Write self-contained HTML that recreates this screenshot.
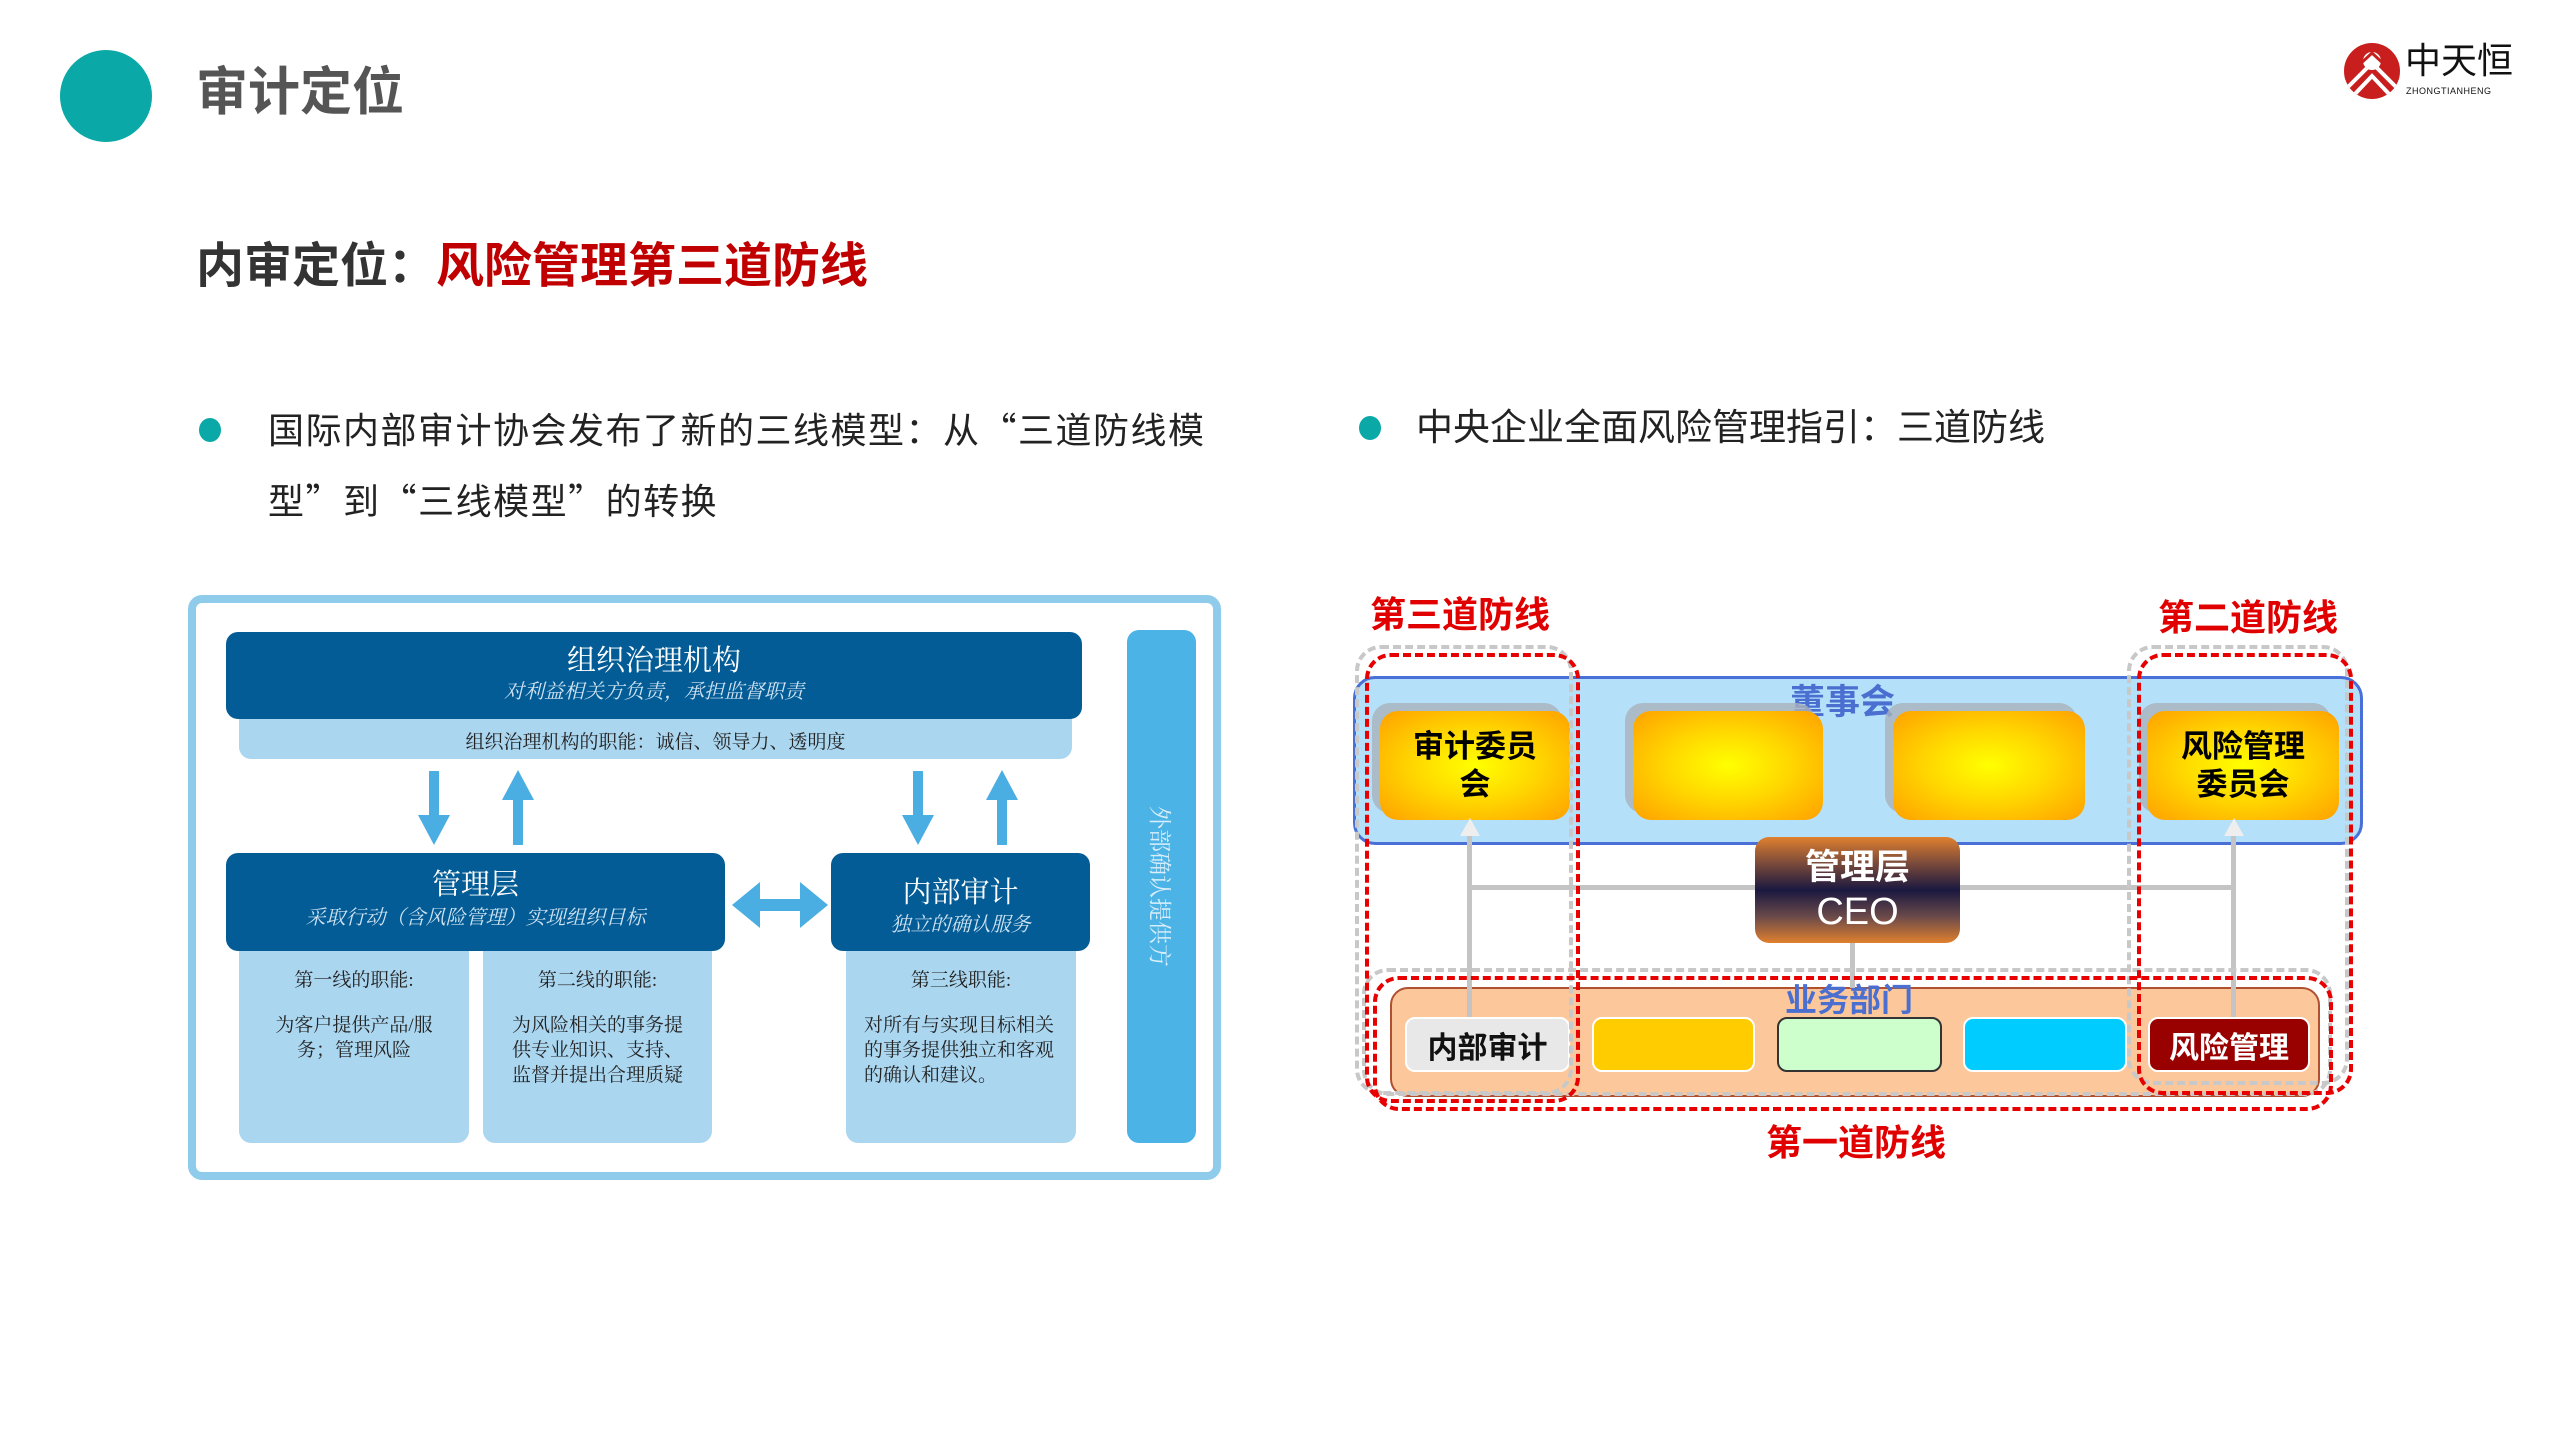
<!DOCTYPE html>
<html><head><meta charset="utf-8"><style>
*{margin:0;padding:0;box-sizing:border-box}
body{width:2560px;height:1440px;background:#fff;position:relative;overflow:hidden;font-family:"Liberation Sans","Noto Sans CJK SC",sans-serif}
.a{position:absolute}
.c{display:flex;align-items:center;justify-content:center;text-align:center}
.serif{font-family:"Liberation Serif","Noto Serif CJK SC",serif}
.dk{background:#035c96;border-radius:12px;color:#fff}
.lt{background:#abd6f0;border-radius:0 0 12px 12px}
.yb{border-radius:18px;background:radial-gradient(ellipse at center,#ffff00 0%,#ffd800 45%,#ffa000 100%);font-weight:bold;font-size:31px;line-height:38px;color:#000}
.sh{background:#a9b2ba;border-radius:18px;opacity:.8}
.gl{background:#c4c4c4}
.rd{border:4px dashed #e80000;border-radius:26px}
.gd{border:4px dashed #c8c8c8;border-radius:26px}
.bx{border-radius:10px;font-weight:bold;font-size:30px}
.q{font-family:"Noto Sans CJK SC",sans-serif}
</style></head><body>

<!-- header -->
<div class="a" style="left:60px;top:50px;width:92px;height:92px;border-radius:50%;background:#0aa8a6"></div>
<div class="a" style="left:196px;top:62px;font-size:52px;font-weight:bold;color:#555;line-height:62px">审计定位</div>
<div class="a" style="left:196px;top:238px;font-size:48px;font-weight:bold;color:#333;line-height:58px">内审定位：<span style="color:#c00000">风险管理第三道防线</span></div>
<div class="a" style="left:199px;top:418px;width:22px;height:24px;border-radius:50%;background:#0aa8a6"></div>
<div class="a" style="left:268px;top:394px;font-size:36px;color:#222;line-height:68px;white-space:nowrap;letter-spacing:1.5px">国际内部审计协会发布了新的三线模型：从<span class="q">“</span>三道防线模<br>型<span class="q">”</span>到<span class="q">“</span>三线模型<span class="q">”</span>的转换</div>
<div class="a" style="left:1359px;top:416px;width:22px;height:24px;border-radius:50%;background:#0aa8a6"></div>
<div class="a" style="left:1416px;top:402px;font-size:37px;color:#222;line-height:52px">中央企业全面风险管理指引：三道防线</div>

<!-- logo -->
<div class="a" style="left:2344px;top:43px;width:56px;height:56px;border-radius:50%;background:#c81e1e;overflow:hidden">
<svg width="56" height="56"><circle cx="28" cy="18" r="9" fill="#fff"/><path d="M4 44 L28 20 L52 44" stroke="#fff" stroke-width="4" fill="none"/><path d="M10 52 L28 33 L46 52" stroke="#fff" stroke-width="4" fill="none"/><path d="M0 36 L28 10 L56 36" stroke="#c81e1e" stroke-width="3" fill="none"/></svg></div>
<div class="a" style="left:2405px;top:40px;font-size:36px;line-height:42px;color:#111">中天恒</div>
<div class="a" style="left:2406px;top:86px;font-size:9px;color:#111;letter-spacing:.5px">ZHONGTIANHENG</div>

<!-- left diagram -->
<div class="a" style="left:188px;top:595px;width:1033px;height:585px;border:8px solid #8fcbea;border-radius:14px"></div>
<div class="a lt c serif" style="left:239px;top:710px;width:833px;height:49px;font-size:19px;color:#222;padding-top:12px">组织治理机构的职能：诚信、领导力、透明度</div>
<div class="a dk serif" style="left:226px;top:632px;width:856px;height:87px;text-align:center"><div style="font-size:29px;margin-top:11px;line-height:36px">组织治理机构</div><div style="font-size:20px;font-style:italic;color:#cfe3f2;line-height:26px">对利益相关方负责，承担监督职责</div></div>

<svg class="a" style="left:0;top:0" width="2560" height="1440">
<g fill="#4aaee2">
<rect x="429" y="771" width="10" height="50"/><polygon points="418,815 450,815 434,845"/>
<rect x="513" y="795" width="10" height="50"/><polygon points="502,800 534,800 518,770"/>
<rect x="913" y="771" width="10" height="50"/><polygon points="902,815 934,815 918,845"/>
<rect x="997" y="795" width="10" height="50"/><polygon points="986,800 1018,800 1002,770"/>
<rect x="755" y="899" width="50" height="12"/><polygon points="760,882 760,928 732,905"/><polygon points="800,882 800,928 828,905"/>
</g></svg>

<div class="a lt" style="left:239px;top:940px;width:230px;height:203px"></div>
<div class="a lt" style="left:483px;top:940px;width:229px;height:203px"></div>
<div class="a lt" style="left:846px;top:940px;width:230px;height:203px"></div>
<div class="a dk serif" style="left:226px;top:853px;width:499px;height:98px;text-align:center"><div style="font-size:29px;margin-top:14px;line-height:36px">管理层</div><div style="font-size:20px;font-style:italic;color:#cfe3f2;line-height:30px">采取行动（含风险管理）实现组织目标</div></div>
<div class="a dk serif" style="left:831px;top:853px;width:259px;height:98px;text-align:center"><div style="font-size:29px;margin-top:22px;line-height:36px">内部审计</div><div style="font-size:20px;font-style:italic;color:#cfe3f2;line-height:28px">独立的确认服务</div></div>
<div class="a serif" style="left:239px;top:968px;width:230px;text-align:center;font-size:19px;color:#222;line-height:25px">第一线的职能:<br><span style="display:block;margin-top:20px;padding:0 22px">为客户提供产品/服务；管理风险</span></div>
<div class="a serif" style="left:483px;top:968px;width:229px;text-align:center;font-size:19px;color:#222;line-height:25px">第二线的职能:<br><span style="display:block;margin-top:20px;padding:0 20px">为风险相关的事务提供专业知识、支持、监督并提出合理质疑</span></div>
<div class="a serif" style="left:846px;top:968px;width:230px;text-align:center;font-size:19px;color:#222;line-height:25px">第三线职能:<br><span style="display:block;margin-top:20px;padding:0 18px;text-align:left">对所有与实现目标相关的事务提供独立和客观的确认和建议。</span></div>
<div class="a c serif" style="left:1127px;top:630px;width:69px;height:513px;background:#4cb3e6;border-radius:12px;color:#d8eefa;font-size:23px;writing-mode:vertical-rl;text-orientation:sideways">外部确认提供方</div>

<!-- right diagram -->
<div class="a" style="left:1353px;top:676px;width:1010px;height:169px;background:#b4e0fa;border:3px solid #4a70d8;border-radius:22px"></div>
<div class="a" style="left:1790px;top:678px;font-size:35px;font-weight:bold;color:#4a6fd0;line-height:50px">董事会</div>
<div class="a sh" style="left:1372px;top:703px;width:190px;height:110px"></div>
<div class="a sh" style="left:1625px;top:703px;width:190px;height:110px"></div>
<div class="a sh" style="left:1885px;top:703px;width:192px;height:110px"></div>
<div class="a sh" style="left:2139px;top:703px;width:192px;height:110px"></div>
<div class="a yb c" style="left:1380px;top:711px;width:190px;height:109px">审计委员<br>会</div>
<div class="a yb" style="left:1633px;top:711px;width:190px;height:109px"></div>
<div class="a yb" style="left:1893px;top:711px;width:192px;height:109px"></div>
<div class="a yb c" style="left:2147px;top:711px;width:192px;height:109px">风险管理<br>委员会</div>

<div class="a" style="left:1390px;top:987px;width:930px;height:110px;background:#fcc89b;border:2px solid #b05030;border-radius:18px"></div>
<div class="a" style="left:1785px;top:978px;font-size:32px;font-weight:bold;color:#4a6fd0;line-height:44px">业务部门</div>

<div class="a gl" style="left:1467px;top:822px;width:5px;height:195px"></div>
<div class="a gl" style="left:2231px;top:822px;width:5px;height:195px"></div>
<div class="a gl" style="left:1467px;top:885px;width:288px;height:5px"></div>
<div class="a gl" style="left:1960px;top:885px;width:274px;height:5px"></div>
<div class="a gl" style="left:1850px;top:943px;width:5px;height:45px"></div>
<svg class="a" style="left:0;top:0" width="2560" height="1440"><g fill="#eee"><polygon points="1460,836 1480,836 1470,818"/><polygon points="2224,836 2244,836 2234,818"/></g></svg>

<div class="a c" style="left:1755px;top:837px;width:205px;height:106px;border-radius:14px;background:linear-gradient(#e0802e 0%,#7a4a3a 25%,#1a1840 50%,#6a4a4a 75%,#e0802e 100%);color:#fff;font-weight:bold;font-size:35px;line-height:44px;flex-direction:column">管理层<span style="font-weight:normal;font-size:38px">CEO</span></div>

<div class="a bx c" style="left:1405px;top:1017px;width:165px;height:55px;background:#e8e8e8;color:#111;border:2px solid #fff">内部审计</div>
<div class="a bx" style="left:1592px;top:1017px;width:163px;height:55px;background:#ffcc00;border:2px solid #fff"></div>
<div class="a bx" style="left:1777px;top:1017px;width:165px;height:55px;background:#ccffcc;border:2px solid #333"></div>
<div class="a bx" style="left:1963px;top:1017px;width:164px;height:55px;background:#00ccff;border:2px solid #fff"></div>
<div class="a bx c" style="left:2148px;top:1017px;width:162px;height:55px;background:#990000;color:#fff;border:2px solid #fff">风险管理</div>

<div class="a gd" style="left:1355px;top:645px;width:218px;height:450px"></div>
<div class="a gd" style="left:2127px;top:645px;width:222px;height:440px"></div>
<div class="a gd" style="left:1362px;top:968px;width:970px;height:128px"></div>
<div class="a rd" style="left:1365px;top:653px;width:215px;height:450px"></div>
<div class="a rd" style="left:2137px;top:653px;width:216px;height:442px"></div>
<div class="a rd" style="left:1373px;top:976px;width:960px;height:135px"></div>

<div class="a" style="left:1370px;top:592px;font-size:36px;font-weight:bold;color:#e00000;line-height:46px">第三道防线</div>
<div class="a" style="left:2158px;top:595px;font-size:36px;font-weight:bold;color:#e00000;line-height:46px">第二道防线</div>
<div class="a" style="left:1766px;top:1120px;font-size:36px;font-weight:bold;color:#e00000;line-height:46px">第一道防线</div>
</body></html>
